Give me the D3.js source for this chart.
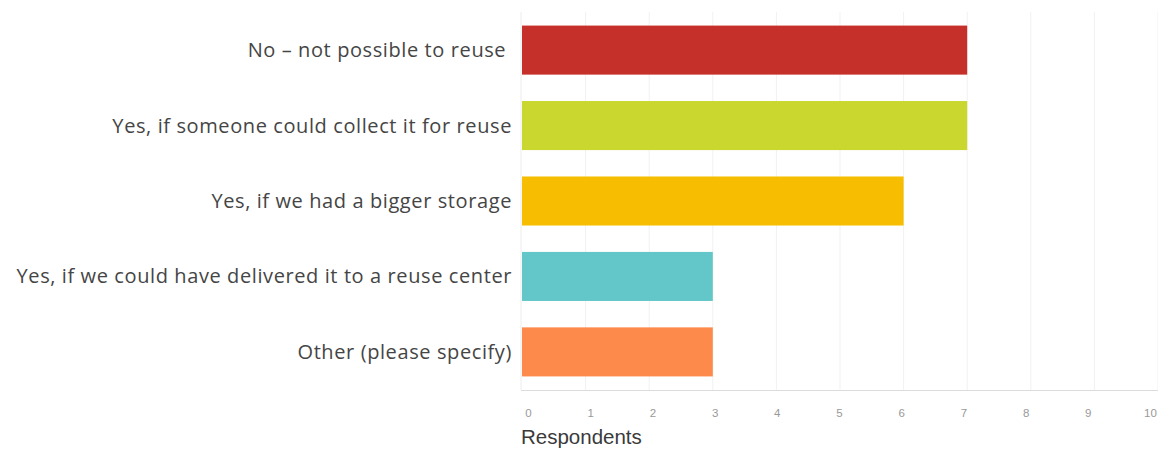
<!DOCTYPE html>
<html>
<head>
<meta charset="utf-8">
<script src="https://cdn.jsdelivr.net/npm/d3@7"></script>
<style>
  html, body { margin: 0; padding: 0; background: #fff; }
  svg { display: block; }
</style>
</head>
<body>
<svg id="chart" width="1158" height="464"></svg>
<script>
// Survey answers and respondent counts
const categories = [
  "No – not possible to reuse ",
  "Yes, if someone could collect it for reuse",
  "Yes, if we had a bigger storage",
  "Yes, if we could have delivered it to a reuse center",
  "Other (please specify)"
];
const respondents = [7, 7, 6, 3, 3];
const barColors = ["#c6302a", "#cad72f", "#f7bd00", "#63c6c9", "#fd894b"];
const xTicks = [0, 1, 2, 3, 4, 5, 6, 7, 8, 9, 10];
const axisTitle = "Respondents";

const svg = d3.select("#chart");
const plot = { left: 522, right: 1158, top: 12, bottom: 390 };

const x = d3.scaleLinear().domain([0, 10]).range([plot.left, plot.right]);
// tick labels sit on a slightly tighter run so "10" stays inside the frame
const xLabel = d3.scaleLinear().domain([0, 10]).range([528, 1150]);
const y = d3.scaleBand().domain(categories).range([plot.top, plot.bottom]).paddingInner(0.35).paddingOuter(0.18);

// vertical gridlines
svg.append("g")
  .selectAll("line")
  .data(xTicks.slice(1))
  .join("line")
  .attr("x1", d => x(d)).attr("x2", d => x(d))
  .attr("y1", plot.top).attr("y2", plot.bottom)
  .attr("stroke", "#f1f1f1").attr("stroke-width", 1);

// left border of the plot
svg.append("line")
  .attr("x1", plot.left - 1).attr("x2", plot.left - 1)
  .attr("y1", plot.top).attr("y2", plot.bottom)
  .attr("stroke", "#ececec");

// bars
svg.append("g")
  .selectAll("rect")
  .data(categories)
  .join("rect")
  .attr("x", x(0))
  .attr("y", d => y(d))
  .attr("width", (d, i) => x(respondents[i]) - x(0))
  .attr("height", y.bandwidth())
  .attr("fill", (d, i) => barColors[i]);

// baseline
svg.append("line")
  .attr("x1", plot.left - 1).attr("x2", plot.right)
  .attr("y1", plot.bottom + 0.5).attr("y2", plot.bottom + 0.5)
  .attr("stroke", "#dcdcdc");

// x axis tick labels
const xAxis = d3.axisBottom(xLabel).tickValues(xTicks).tickSize(0).tickPadding(0);
const gx = svg.append("g").attr("transform", `translate(0,${plot.bottom})`).call(xAxis);
gx.select(".domain").remove();
gx.selectAll("text")
  .attr("dy", 0).attr("y", 27)
  .attr("font-family", "Liberation Sans, Arial, sans-serif")
  .attr("font-size", 11.5)
  .attr("fill", "#999");

// axis title
svg.append("text")
  .attr("x", plot.left - 1)
  .attr("y", 444)
  .attr("font-family", "Liberation Sans, Arial, sans-serif")
  .attr("font-size", 20.5)
  .attr("fill", "#3a3a3a")
  .text(axisTitle);

// category labels
svg.append("g")
  .selectAll("text")
  .data(categories)
  .join("text")
  .attr("x", 512)
  .attr("y", d => y(d) + y.bandwidth() / 2)
  .attr("dy", "0.35em")
  .attr("text-anchor", "end")
  .attr("font-family", "Open Sans, sans-serif")
  .attr("font-size", 20)
  .attr("letter-spacing", 0.6)
  .attr("fill", "#454545")
  .attr("xml:space", "preserve")
  .style("white-space", "pre")
  .text(d => d);
</script>
</body>
</html>
